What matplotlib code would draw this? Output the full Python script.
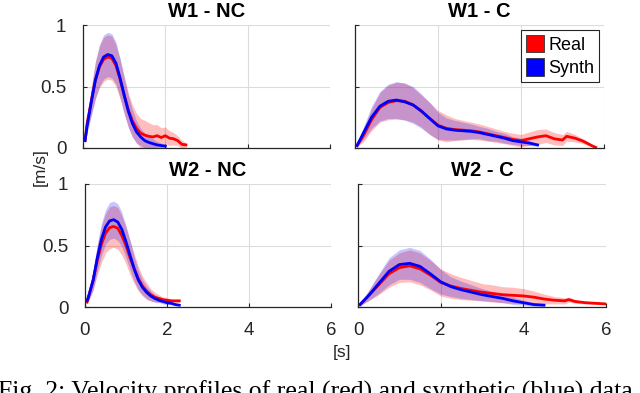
import numpy as np
import matplotlib
matplotlib.use("Agg")
from matplotlib import pyplot as plt
from matplotlib.patches import Patch

plt.rcParams['font.family'] = ['Liberation Sans', 'DejaVu Sans']

# ---- W1 - NC ----
w1nc_t_real = [0.05, 0.1, 0.2, 0.3, 0.4, 0.5, 0.6, 0.7, 0.8, 0.9, 1.0, 1.1, 1.2, 1.3, 1.4, 1.5,
               1.6, 1.7, 1.8, 1.9, 2.0, 2.1, 2.2, 2.3, 2.4, 2.5]
w1nc_real = [0.06, 0.20, 0.38, 0.55, 0.66, 0.72, 0.74, 0.73, 0.67, 0.56, 0.43, 0.31, 0.22, 0.16, 0.12, 0.105,
             0.095, 0.09, 0.10, 0.085, 0.10, 0.08, 0.075, 0.06, 0.03, 0.025]
w1nc_real_sd = [0.02, 0.06, 0.11, 0.15, 0.17, 0.18, 0.18, 0.18, 0.17, 0.16, 0.15, 0.14, 0.13, 0.12, 0.12, 0.12,
                0.11, 0.10, 0.09, 0.08, 0.07, 0.06, 0.05, 0.04, 0.03, 0.02]
w1nc_t_syn = [0.05, 0.1, 0.2, 0.3, 0.4, 0.5, 0.6, 0.7, 0.8, 0.9, 1.0, 1.1, 1.2, 1.3, 1.4, 1.5,
              1.6, 1.7, 1.8, 1.9, 2.0]
w1nc_syn = [0.06, 0.18, 0.37, 0.55, 0.67, 0.74, 0.76, 0.75, 0.69, 0.57, 0.43, 0.30, 0.20, 0.13, 0.09, 0.06,
            0.045, 0.035, 0.025, 0.02, 0.015]
w1nc_syn_sd = [0.02, 0.06, 0.11, 0.15, 0.17, 0.18, 0.18, 0.18, 0.17, 0.16, 0.15, 0.13, 0.11, 0.09, 0.07, 0.06,
               0.05, 0.04, 0.03, 0.02, 0.01]

# ---- W1 - C ----
w1c_t_real = [0.05, 0.2, 0.4, 0.6, 0.8, 1.0, 1.2, 1.4, 1.6, 1.8, 2.0, 2.2, 2.4, 2.6, 2.8, 3.0, 3.2, 3.4,
              3.6, 3.8, 4.0, 4.2, 4.4, 4.6, 4.8, 5.0, 5.1, 5.3, 5.5, 5.7, 5.8]
w1c_real = [0.02, 0.10, 0.23, 0.33, 0.37, 0.385, 0.38, 0.35, 0.30, 0.24, 0.185, 0.16, 0.15, 0.145, 0.14, 0.13,
            0.115, 0.10, 0.085, 0.07, 0.06, 0.075, 0.09, 0.10, 0.075, 0.065, 0.095, 0.08, 0.055, 0.02, 0.005]
w1c_real_sd = [0.01, 0.05, 0.09, 0.12, 0.14, 0.15, 0.15, 0.14, 0.13, 0.13, 0.12, 0.11, 0.09, 0.08, 0.07, 0.065,
               0.06, 0.055, 0.05, 0.05, 0.05, 0.055, 0.06, 0.055, 0.05, 0.045, 0.04, 0.03, 0.02, 0.01, 0.005]
w1c_t_syn = [0.05, 0.2, 0.4, 0.6, 0.8, 1.0, 1.2, 1.4, 1.6, 1.8, 2.0, 2.2, 2.4, 2.6, 2.8, 3.0, 3.2, 3.4,
             3.6, 3.8, 4.0, 4.2, 4.4]
w1c_syn = [0.02, 0.12, 0.25, 0.34, 0.38, 0.39, 0.375, 0.35, 0.30, 0.24, 0.18, 0.155, 0.145, 0.14, 0.135, 0.125,
           0.11, 0.095, 0.08, 0.06, 0.05, 0.04, 0.025]
w1c_syn_sd = [0.01, 0.05, 0.09, 0.12, 0.14, 0.15, 0.15, 0.15, 0.14, 0.13, 0.11, 0.09, 0.08, 0.07, 0.06, 0.05,
              0.05, 0.04, 0.04, 0.03, 0.03, 0.02, 0.01]

# ---- W2 - NC ----
w2nc_t_real = [0.05, 0.1, 0.2, 0.3, 0.4, 0.5, 0.6, 0.7, 0.8, 0.9, 1.0, 1.1, 1.2, 1.3, 1.4, 1.5,
               1.6, 1.7, 1.8, 1.9, 2.0, 2.1, 2.2, 2.3]
w2nc_real = [0.04, 0.10, 0.22, 0.38, 0.51, 0.60, 0.645, 0.655, 0.64, 0.58, 0.50, 0.40, 0.31, 0.23, 0.17, 0.13,
             0.10, 0.08, 0.07, 0.06, 0.055, 0.05, 0.05, 0.05]
w2nc_real_sd = [0.01, 0.04, 0.08, 0.12, 0.15, 0.16, 0.17, 0.17, 0.17, 0.16, 0.15, 0.14, 0.12, 0.10, 0.08, 0.07,
                0.05, 0.04, 0.03, 0.02, 0.02, 0.015, 0.01, 0.01]
w2nc_t_syn = [0.05, 0.1, 0.2, 0.3, 0.4, 0.5, 0.6, 0.7, 0.8, 0.9, 1.0, 1.1, 1.2, 1.3, 1.4, 1.5,
              1.6, 1.7, 1.8, 1.9, 2.0, 2.1, 2.2, 2.3]
w2nc_syn = [0.05, 0.10, 0.22, 0.40, 0.55, 0.65, 0.70, 0.71, 0.69, 0.63, 0.53, 0.42, 0.31, 0.22, 0.16, 0.12,
            0.09, 0.07, 0.055, 0.045, 0.035, 0.03, 0.02, 0.015]
w2nc_syn_sd = [0.01, 0.04, 0.08, 0.11, 0.13, 0.14, 0.15, 0.15, 0.15, 0.14, 0.13, 0.12, 0.10, 0.08, 0.06, 0.05,
               0.04, 0.03, 0.02, 0.02, 0.015, 0.01, 0.01, 0.005]

# ---- W2 - C ----
w2c_t_real = [0.05, 0.25, 0.5, 0.75, 1.0, 1.25, 1.5, 1.75, 2.0, 2.25, 2.5, 2.75, 3.0, 3.25, 3.5, 3.75,
              4.0, 4.25, 4.5, 4.75, 5.0, 5.1, 5.25, 5.5, 5.75, 6.0]
w2c_real = [0.02, 0.09, 0.18, 0.27, 0.32, 0.335, 0.31, 0.26, 0.20, 0.17, 0.15, 0.135, 0.12, 0.11, 0.10, 0.095,
            0.09, 0.08, 0.065, 0.055, 0.05, 0.06, 0.045, 0.035, 0.03, 0.025]
w2c_real_sd = [0.01, 0.04, 0.08, 0.11, 0.12, 0.13, 0.13, 0.12, 0.11, 0.10, 0.09, 0.08, 0.07, 0.07, 0.065, 0.065,
               0.06, 0.05, 0.04, 0.03, 0.025, 0.02, 0.015, 0.01, 0.01, 0.005]
w2c_t_syn = [0.05, 0.25, 0.5, 0.75, 1.0, 1.25, 1.5, 1.75, 2.0, 2.25, 2.5, 2.75, 3.0, 3.25, 3.5, 3.75,
             4.0, 4.25, 4.5]
w2c_syn = [0.02, 0.09, 0.19, 0.29, 0.345, 0.355, 0.33, 0.27, 0.205, 0.165, 0.14, 0.12, 0.10, 0.085, 0.07, 0.05,
           0.035, 0.02, 0.015]
w2c_syn_sd = [0.01, 0.04, 0.08, 0.11, 0.12, 0.13, 0.13, 0.12, 0.10, 0.08, 0.07, 0.06, 0.05, 0.04, 0.035, 0.03,
              0.02, 0.015, 0.01]

panels = [
    ("W1 - NC", w1nc_t_real, w1nc_real, w1nc_real_sd, w1nc_t_syn, w1nc_syn, w1nc_syn_sd),
    ("W1 - C", w1c_t_real, w1c_real, w1c_real_sd, w1c_t_syn, w1c_syn, w1c_syn_sd),
    ("W2 - NC", w2nc_t_real, w2nc_real, w2nc_real_sd, w2nc_t_syn, w2nc_syn, w2nc_syn_sd),
    ("W2 - C", w2c_t_real, w2c_real, w2c_real_sd, w2c_t_syn, w2c_syn, w2c_syn_sd),
]

W, H = 640, 393
# axes boxes in pixels: left, right, top, bottom
boxes = [(83, 330, 25, 148), (355, 604, 25, 148), (85, 331, 184, 307), (358, 606, 184, 307)]

fig = plt.figure(figsize=(6.4, 3.93), dpi=100)

for i, (title, tr, mr, sr, ts, ms, ss) in enumerate(panels):
    l, r, t, b = boxes[i]
    ax = fig.add_axes([l / W, 1 - b / H, (r - l) / W, (b - t) / H])
    tr, mr, sr = np.array(tr), np.array(mr), np.array(sr)
    ts, ms, ss = np.array(ts), np.array(ms), np.array(ss)
    ax.fill_between(tr, mr - sr, mr + sr, color=(1, 0, 0), alpha=0.26, lw=0)
    ax.fill_between(ts, ms - ss, ms + ss, color=(0, 0, 1), alpha=0.22, lw=0)
    ax.plot(tr, mr, color=(1, 0, 0), lw=2)
    ax.plot(ts, ms, color=(0, 0, 1), lw=2)
    ax.set_xlim(0, 6)
    ax.set_ylim(0, 1)
    ax.set_xticks([0, 2, 4, 6])
    ax.set_yticks([0, 0.5, 1])
    ax.set_yticklabels(["0", "0.5", "1"])
    ax.grid(True, color="#dcdcdc", lw=0.8)
    ax.set_axisbelow(True)
    for s in ("top", "right"):
        ax.spines[s].set_visible(False)
    for s in ("left", "bottom"):
        ax.spines[s].set_color("#262626")
        ax.spines[s].set_linewidth(0.9)
    ax.tick_params(direction="in", length=3, labelsize=13.5, colors="#262626")
    ax.tick_params(axis="x", pad=11)
    ax.tick_params(axis="y", pad=12)
    if i < 2:
        ax.tick_params(labelbottom=False)
    if i % 2 == 1:
        ax.tick_params(labelleft=False)
    ax.set_title(title, fontsize=14.5, fontweight="bold", pad=6)
    if i == 1:
        handles = [Patch(facecolor=(1, 0, 0), edgecolor="#333333", lw=0.6),
                   Patch(facecolor=(0, 0, 1), edgecolor="#333333", lw=0.6)]
        leg = ax.legend(handles, ["Real", "Synth"], loc="upper right", fontsize=13,
                        handlelength=1.0, handleheight=1.1, handletextpad=0.2,
                        borderpad=0.3, labelspacing=0.25, borderaxespad=0.25,
                        fancybox=False, framealpha=1)
        leg.get_frame().set_edgecolor("#262626")
        leg.get_frame().set_linewidth(0.8)

fig.text(40 / W, 1 - 167 / H, "[m/s]", rotation=90, ha="center", va="center", fontsize=12.5, color="#262626")
fig.text(342 / W, 1 - 352 / H, "[s]", ha="center", va="center", fontsize=12.5, color="#262626")
fig.text(-2 / W, 1 - 381 / H, "Fig. 2: Velocity profiles of real (red) and synthetic (blue) data",
         ha="left", va="top", fontsize=18.5, family=["Liberation Serif", "DejaVu Serif"])

fig.savefig("out.png", dpi=100)
